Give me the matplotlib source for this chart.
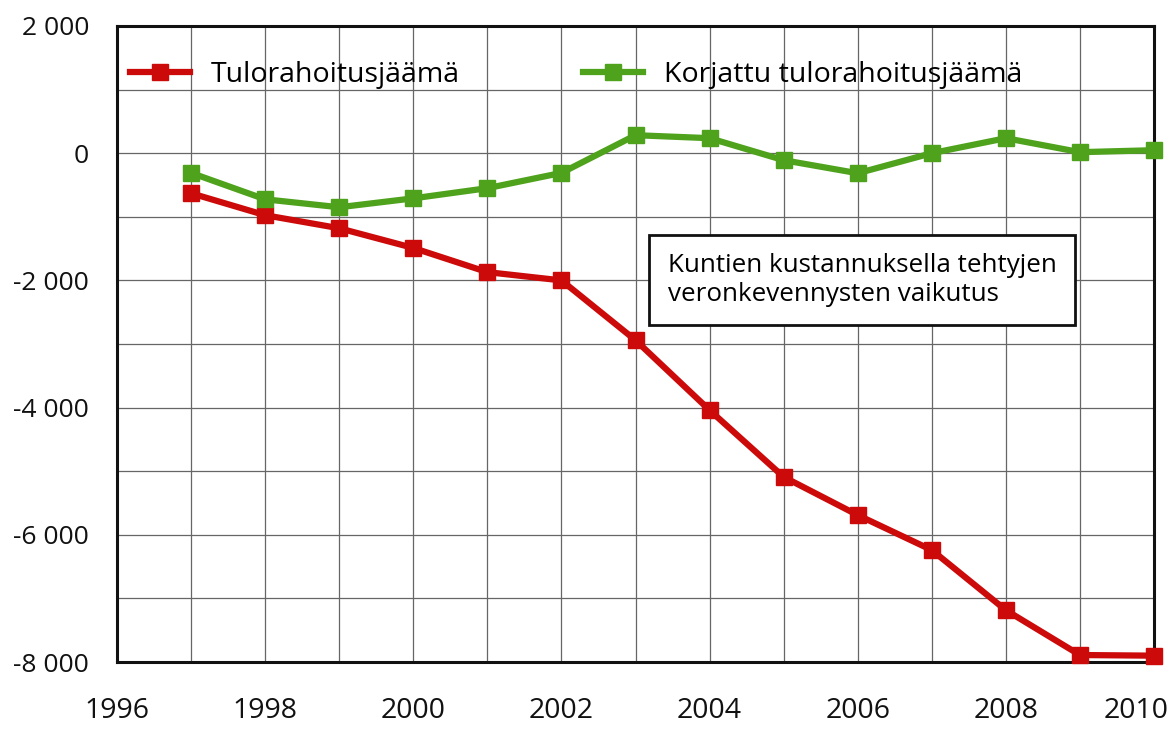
import matplotlib.pyplot as plt
from matplotlib.ticker import FuncFormatter
from matplotlib.transforms import ScaledTranslation

plt.rcParams['font.family'] = ['Open Sans', 'DejaVu Sans']

vuodet = list(range(1997, 2011))
tulorahoitusjaama = [-630, -975, -1180, -1490, -1870, -2000, -2940, -4040,
                     -5090, -5690, -6240, -7185, -7890, -7900]
korjattu = [-310, -725, -850, -710, -550, -310, 283, 236,
            -110, -315, 0, 236, 16, 47]

x_ticks = [1996, 1998, 2000, 2002, 2004, 2006, 2008, 2010]
y_ticks = [-8000, -6000, -4000, -2000, 0, 2000]

red = '#cc0a0a'
green = '#4ea21c'

fig = plt.figure(figsize=(11.76, 7.32), dpi=100)
ax = fig.add_axes([0.0995, 0.0956, 0.8818, 0.8689])

ax.plot(vuodet, tulorahoitusjaama, color=red, lw=4.5, marker='s', ms=12,
        mec=red, mfc=red, label='Tulorahoitusjäämä', clip_on=False, zorder=3)
ax.plot(vuodet, korjattu, color=green, lw=4.5, marker='s', ms=12,
        mec=green, mfc=green, label='Korjattu tulorahoitusjäämä', clip_on=False, zorder=3)

ax.set_xlim(1996, 2010)
ax.set_ylim(-8000, 2000)
ax.set_xticks(range(1996, 2011), minor=True)
ax.set_yticks(range(-8000, 2001, 1000), minor=True)
ax.set_xticks(x_ticks)
ax.set_yticks(y_ticks)
ax.yaxis.set_major_formatter(FuncFormatter(lambda v, p: '{:,.0f}'.format(v).replace(',', ' ')))
ax.grid(which='both', color='#666666', lw=0.9)
ax.tick_params(which='both', length=0, colors='#111111')
ax.tick_params(axis='x', pad=25, labelsize=20.5)
ax.tick_params(axis='y', pad=20, labelsize=19)
for s in ax.spines.values():
    s.set_linewidth(2.2)
    s.set_color('#111111')

# viimeinen vuosiluku hieman vasemmalle, kuten alkuperäisessä
lbl = ax.xaxis.get_major_ticks()[-1].label1
lbl.set_transform(lbl.get_transform() + ScaledTranslation(-0.18, 0, fig.dpi_scale_trans))

ax.legend(loc='center left', bbox_to_anchor=(13 / 1037, 587 / 636), ncol=2, frameon=False,
          fontsize=20.5, handlelength=2.1, columnspacing=4.3, handletextpad=0.75,
          borderpad=0, borderaxespad=0)

ax.text(0.531, 0.643, 'Kuntien kustannuksella tehtyjen\nveronkevennysten vaikutus',
        transform=ax.transAxes, fontsize=18.7, va='top', ha='left', linespacing=1.2,
        bbox=dict(boxstyle='square,pad=0.7', fc='white', ec='#111111', lw=2))

fig.savefig('out.png', dpi=100)
